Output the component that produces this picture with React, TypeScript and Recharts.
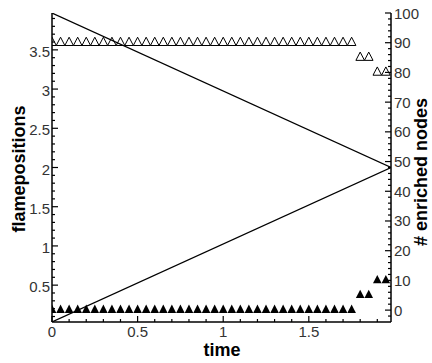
import React from "react";
import { ComposedChart, Line, Scatter, XAxis, YAxis } from "recharts";

// flame front positions (left axis)
const flameTime = [0, 1.98];
const flameFromTop = [3.97, 2.0];
const flameFromBottom = [0.03, 2.0];

// enriched node counts (right axis)
const nodeTime = [
  0, 0.05, 0.1, 0.15, 0.2, 0.25, 0.3, 0.35, 0.4, 0.45,
  0.5, 0.55, 0.6, 0.65, 0.7, 0.75, 0.8, 0.85, 0.9, 0.95,
  1, 1.05, 1.1, 1.15, 1.2, 1.25, 1.3, 1.35, 1.4, 1.45,
  1.5, 1.55, 1.6, 1.65, 1.7, 1.75, 1.8, 1.85, 1.9, 1.95,
];
const nodesOpen = [
  90, 90, 90, 90, 90, 90, 90, 90, 90, 90,
  90, 90, 90, 90, 90, 90, 90, 90, 90, 90,
  90, 90, 90, 90, 90, 90, 90, 90, 90, 90,
  90, 90, 90, 90, 90, 90, 85, 85, 80, 80,
];
const nodesFilled = [
  0, 0, 0, 0, 0, 0, 0, 0, 0, 0,
  0, 0, 0, 0, 0, 0, 0, 0, 0, 0,
  0, 0, 0, 0, 0, 0, 0, 0, 0, 0,
  0, 0, 0, 0, 0, 0, 5, 5, 10, 10,
];

// tick positions (majors get labels)
const xTicks = [
  0, 0.1, 0.2, 0.3, 0.4, 0.5, 0.6, 0.7, 0.8, 0.9,
  1, 1.1, 1.2, 1.3, 1.4, 1.5, 1.6, 1.7, 1.8, 1.9,
];
const leftTicks = [
  0.1, 0.2, 0.3, 0.4, 0.5, 0.6, 0.7, 0.8, 0.9, 1,
  1.1, 1.2, 1.3, 1.4, 1.5, 1.6, 1.7, 1.8, 1.9, 2,
  2.1, 2.2, 2.3, 2.4, 2.5, 2.6, 2.7, 2.8, 2.9, 3,
  3.1, 3.2, 3.3, 3.4, 3.5, 3.6, 3.7, 3.8, 3.9,
];
const rightTicks = [
  -2, 0, 2, 4, 6, 8, 10, 12, 14, 16, 18, 20, 22, 24, 26, 28, 30,
  32, 34, 36, 38, 40, 42, 44, 46, 48, 50, 52, 54, 56, 58, 60,
  62, 64, 66, 68, 70, 72, 74, 76, 78, 80, 82, 84, 86, 88, 90,
  92, 94, 96, 98, 100,
];

const topLine = flameTime.map((t, i) => ({ t, y: flameFromTop[i] }));
const bottomLine = flameTime.map((t, i) => ({ t, y: flameFromBottom[i] }));
const openPoints = nodeTime.map((t, i) => ({ t, n: nodesOpen[i] }));
const filledPoints = nodeTime.map((t, i) => ({ t, n: nodesFilled[i] }));

const FONT = "'Liberation Sans', Arial, sans-serif";
const AXIS = { stroke: "#000", strokeWidth: 1.5 };

const isMajor = (v: number, step: number) =>
  Math.abs(v / step - Math.round(v / step)) < 1e-6;

const BottomTick = (props: any) => {
  const { x, y, payload } = props;
  const major = isMajor(payload.value, 0.5);
  return (
    <g>
      <line x1={x} y1={y} x2={x} y2={y - (major ? 6 : 3)} stroke="#000" strokeWidth={1.2} />
      {major && (
        <text x={x} y={y + 15} textAnchor="middle" fontSize={15} fontFamily={FONT} fill="#333">
          {String(payload.value)}
        </text>
      )}
    </g>
  );
};

const LeftTick = (props: any) => {
  const { x, y, payload } = props;
  const major = isMajor(payload.value, 0.5);
  return (
    <g>
      <line x1={x} y1={y} x2={x + (major ? 6 : 3)} y2={y} stroke="#000" strokeWidth={1.2} />
      {major && (
        <text x={x - 2} y={y + 7} textAnchor="end" fontSize={15} fontFamily={FONT} fill="#333">
          {String(payload.value)}
        </text>
      )}
    </g>
  );
};

const RightTick = (props: any) => {
  const { x, y, payload } = props;
  const major = isMajor(payload.value, 10);
  return (
    <g>
      <line x1={x} y1={y} x2={x - (major ? 6 : 3)} y2={y} stroke="#000" strokeWidth={1.2} />
      {major && (
        <text x={x + 3} y={y + 5.5} textAnchor="start" fontSize={15} fontFamily={FONT} fill="#333">
          {String(payload.value)}
        </text>
      )}
    </g>
  );
};

const OpenTriangle = (props: any) => {
  const { cx, cy } = props;
  return (
    <path
      d={`M${cx},${cy - 5.5} L${cx + 4.3},${cy + 2.8} L${cx - 4.3},${cy + 2.8} Z`}
      fill="none"
      stroke="#000"
      strokeWidth={1}
    />
  );
};

const FilledTriangle = (props: any) => {
  const { cx, cy } = props;
  return (
    <path
      d={`M${cx},${cy - 5.5} L${cx + 4.3},${cy + 2.8} L${cx - 4.3},${cy + 2.8} Z`}
      fill="#000"
    />
  );
};

const titleStyle = {
  fontSize: 18,
  fontWeight: 700,
  fontFamily: FONT,
  fill: "#000",
};

export default function App() {
  return (
    <div style={{ position: "absolute", left: 0, top: 0, width: 432, height: 363, background: "#fff" }}>
      <ComposedChart width={432} height={363} margin={{ top: 13, right: 0, bottom: 0, left: 0 }}>
        <XAxis
          xAxisId="bottom"
          dataKey="t"
          type="number"
          domain={[0, 1.98]}
          ticks={xTicks}
          interval={0}
          allowDataOverflow
          tickSize={0}
          tickMargin={0}
          tickLine={false}
          axisLine={AXIS}
          tick={<BottomTick />}
          height={41}
        />
        <XAxis
          xAxisId="top"
          orientation="top"
          type="number"
          domain={[0, 1.98]}
          allowDataOverflow
          tick={false}
          tickLine={false}
          axisLine={AXIS}
          height={0}
        />
        <YAxis
          yAxisId="left"
          type="number"
          domain={[0.03, 3.97]}
          ticks={leftTicks}
          interval={0}
          allowDataOverflow
          tickSize={0}
          tickMargin={0}
          tickLine={false}
          axisLine={AXIS}
          tick={<LeftTick />}
          width={52}
        />
        <YAxis
          yAxisId="right"
          orientation="right"
          type="number"
          domain={[-4, 100]}
          ticks={rightTicks}
          interval={0}
          allowDataOverflow
          tickSize={0}
          tickMargin={0}
          tickLine={false}
          axisLine={AXIS}
          tick={<RightTick />}
          width={41}
        />
        <Line
          xAxisId="bottom"
          yAxisId="left"
          data={topLine}
          dataKey="y"
          type="linear"
          stroke="#000"
          strokeWidth={1.2}
          dot={false}
          isAnimationActive={false}
        />
        <Line
          xAxisId="bottom"
          yAxisId="left"
          data={bottomLine}
          dataKey="y"
          type="linear"
          stroke="#000"
          strokeWidth={1.2}
          dot={false}
          isAnimationActive={false}
        />
        <Scatter
          xAxisId="bottom"
          yAxisId="right"
          data={openPoints}
          dataKey="n"
          shape={<OpenTriangle />}
          isAnimationActive={false}
        />
        <Scatter
          xAxisId="bottom"
          yAxisId="right"
          data={filledPoints}
          dataKey="n"
          shape={<FilledTriangle />}
          isAnimationActive={false}
        />
        <text transform="translate(25,169) rotate(-90)" textAnchor="middle" style={titleStyle}>
          flamepositions
        </text>
        <text transform="translate(427,172) rotate(-90)" textAnchor="middle" style={titleStyle}>
          # enriched nodes
        </text>
        <text x={222} y={356} textAnchor="middle" style={titleStyle}>
          time
        </text>
      </ComposedChart>
    </div>
  );
}
